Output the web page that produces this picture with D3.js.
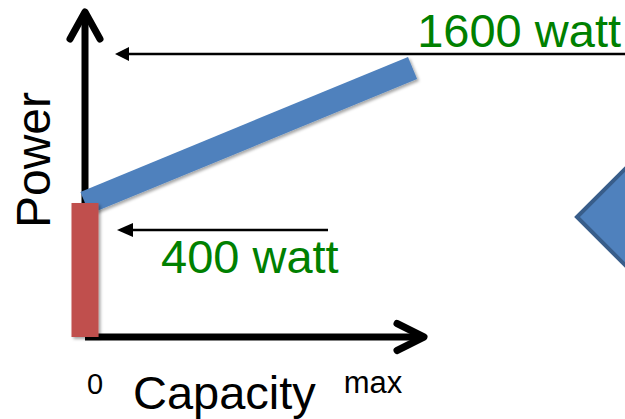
<!DOCTYPE html>
<html><head><meta charset="utf-8">
<script src="https://cdn.jsdelivr.net/npm/d3@7"></script>
<style>body{margin:0;background:#fff}svg{display:block}</style>
</head><body><svg id="c" width="625" height="419"></svg>
<script>
// ---- data ----
const powerLevels = [0, 400, 1600];
const capacityDomain = [0, 100];
const capacityTicks = ["0", "max"];
const idleBar = [{capacity: 0, from: 0, to: 400}];
const loadLine = [{capacity: 0, power: 400}, {capacity: 95.5, power: 1600}];
const annotations = ["1600 watt", "400 watt"];
const annotationPower = [1600, 400];
const axisTitles = ["Capacity", "Power"];

// ---- layout ----
const svg = d3.select("#c");
const x = d3.scaleLinear().domain(capacityDomain).range([85, 428]);
const y = d3.scaleLinear().domain(powerLevels).range([337, 203, 68]);
const font = "'Liberation Sans', Arial, sans-serif";

const defs = svg.append("defs");
const f = defs.append("filter").attr("id", "sh").attr("x", "-20%").attr("y", "-20%").attr("width", "140%").attr("height", "140%");
f.append("feDropShadow").attr("dx", 2).attr("dy", 2).attr("stdDeviation", 1.8).attr("flood-color", "#000").attr("flood-opacity", 0.35);

// diamond (partially visible shape at right)
const dc = {x: 676, y: 217, r: 99};
svg.append("path")
  .attr("d", `M${dc.x - dc.r},${dc.y} L${dc.x},${dc.y - dc.r} L${dc.x + dc.r},${dc.y} L${dc.x},${dc.y + dc.r} Z`)
  .attr("fill", "#4F81BD").attr("stroke", "#385D8A").attr("stroke-width", 4);

// axes
const x0 = x(capacityDomain[0]), y0 = y(0);
const ax = svg.append("g").attr("stroke", "#000").attr("stroke-width", 7).attr("fill", "none")
  .attr("stroke-linecap", "round").attr("stroke-linejoin", "round");
ax.append("line").attr("x1", x0).attr("y1", y0).attr("x2", x0).attr("y2", 12).attr("stroke-linecap", "butt");
ax.append("path").attr("d", `M${x0 - 15},39 L${x0},12 L${x0 + 15},39`);
ax.append("line").attr("x1", x0).attr("y1", y0).attr("x2", x(100) - 4).attr("y2", y0).attr("stroke-linecap", "butt");
ax.append("path").attr("d", `M${x(100) - 31},${y0 - 13.5} L${x(100) - 4},${y0} L${x(100) - 31},${y0 + 13.5}`);

// annotation arrows
const annY = [y(annotationPower[0]) - 14, y(annotationPower[1]) + 27];
const annX1 = [625, 328];
const annTip = [115, 117];
const annLen = [14, 16];
annotations.forEach((t, i) => {
  svg.append("line").attr("x1", annX1[i]).attr("y1", annY[i]).attr("x2", annTip[i] + annLen[i] - 1).attr("y2", annY[i])
    .attr("stroke", "#000").attr("stroke-width", 2.5);
  svg.append("path")
    .attr("d", `M${annTip[i]},${annY[i]} L${annTip[i] + annLen[i]},${annY[i] - 7} L${annTip[i] + annLen[i]},${annY[i] + 7} Z`)
    .attr("fill", "#000");
});
svg.append("text").attr("x", 621).attr("y", 47).attr("text-anchor", "end")
  .attr("font-family", font).attr("font-size", 47).attr("fill", "#008000").text(annotations[0]);
svg.append("text").attr("x", 161).attr("y", 273).attr("text-anchor", "start")
  .attr("font-family", font).attr("font-size", 47).attr("fill", "#008000").text(annotations[1]);

// blue load line
svg.append("path").datum(loadLine)
  .attr("d", d3.line().x(d => x(d.capacity)).y(d => y(d.power)))
  .attr("stroke", "#4F81BD").attr("stroke-width", 24).attr("fill", "none").attr("filter", "url(#sh)");

// red idle bar
svg.selectAll("rect.idle").data(idleBar).join("rect").attr("class", "idle")
  .attr("x", d => x(d.capacity) - 13.5).attr("width", 27)
  .attr("y", d => y(d.to)).attr("height", d => y(d.from) - y(d.to))
  .attr("fill", "#C0504D").attr("filter", "url(#sh)");

// axis titles & ticks
svg.append("text").attr("transform", `translate(50,160) rotate(-90)`).attr("text-anchor", "middle")
  .attr("font-family", font).attr("font-size", 48).attr("fill", "#000").text(axisTitles[1]);
svg.append("text").attr("x", 133).attr("y", 409)
  .attr("font-family", font).attr("font-size", 47).attr("fill", "#000").text(axisTitles[0]);
svg.append("text").attr("x", x(0) + 10).attr("y", 394).attr("text-anchor", "middle")
  .attr("font-family", font).attr("font-size", 29).attr("fill", "#000").text(capacityTicks[0]);
svg.append("text").attr("x", 373).attr("y", 393).attr("text-anchor", "middle")
  .attr("font-family", font).attr("font-size", 31).attr("fill", "#000").text(capacityTicks[1]);
</script></body></html>
